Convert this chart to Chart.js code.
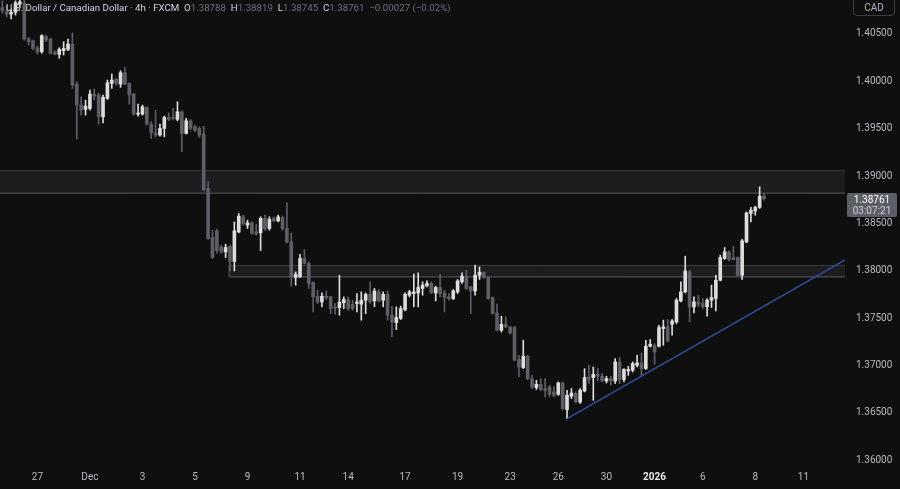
<!DOCTYPE html>
<html>
<head>
<meta charset="utf-8">
<script src="https://cdn.jsdelivr.net/npm/chart.js@4.4.1/dist/chart.umd.min.js"></script>
<style>
  html, body { margin: 0; padding: 0; background: #0f0f0f; }
  #wrap { position: relative; width: 900px; height: 489px; overflow: hidden; background: #0f0f0f; }
  canvas { position: absolute; left: 0; top: 0; }
  #title { position: absolute; left: 6px; top: 1px; font-family: Roboto, "Liberation Sans", sans-serif; font-size: 9.7px; line-height: 14px; color: #d1d4dc; white-space: pre; }
  #title .v { color: #6d7079; }
  #cad { position: absolute; left: 853px; top: -3px; width: 42px; height: 19px; border: 1px solid #3a3b3f; border-radius: 4px; box-sizing: border-box; color: #b2b5be; font-family: Roboto, sans-serif; font-size: 10px; line-height: 20px; text-align: center; }
  #last { position: absolute; left: 847px; top: 193px; width: 50px; height: 24px; background: #5d5f68; border-radius: 2px; font-family: Roboto, sans-serif; font-size: 10px; line-height: 11px; text-align: center; padding-top: 1px; box-sizing: border-box; }
  #last .p { color: #ffffff; }
  #last .t { color: #d0d2d8; }
</style>
</head>
<body>
<div id="wrap">
  <canvas id="c" width="900" height="489"></canvas>
  <div id="title">U.S. Dollar / Canadian Dollar · 4h · FXCM  O<span class="v">1.38788</span>  H<span class="v">1.38819</span>  L<span class="v">1.38745</span>  C<span class="v">1.38761</span>  <span class="v">−0.00027 (−0.02%)</span></div>
  <div id="cad">CAD</div>
  <div id="last"><div class="p">1.38761</div><div class="t">03:07:21</div></div>
</div>
<script>
// ---- data (4h candles, index 0 = first visible full bar) ----
const START_INDEX = -2;
const OPEN = [1.4078,1.4074,1.4071,1.4073,1.4082,1.40827,1.40447,1.40429,1.40352,1.40312,1.40471,1.40447,1.40312,1.40285,1.40323,1.40338,1.40394,1.39971,1.39749,1.39704,1.39714,1.39865,1.39855,1.39625,1.39820,1.39979,1.40021,1.39971,1.40091,1.39979,1.39865,1.39654,1.39654,1.39725,1.39548,1.39456,1.39432,1.39503,1.39619,1.39619,1.39598,1.39678,1.39450,1.39583,1.39520,1.39503,1.39443,1.38869,1.38351,1.38421,1.38251,1.38198,1.38257,1.38097,1.38410,1.38569,1.38481,1.38505,1.38410,1.38399,1.38552,1.38446,1.38552,1.38526,1.38562,1.38446,1.38304,1.37928,1.37934,1.38129,1.38076,1.37871,1.37730,1.37670,1.37730,1.37723,1.37617,1.37611,1.37660,1.37695,1.37646,1.37653,1.37646,1.37688,1.37751,1.37681,1.37776,1.37688,1.37751,1.37529,1.37452,1.37495,1.37590,1.37741,1.37759,1.37765,1.37812,1.37843,1.37865,1.37765,1.37822,1.37765,1.37723,1.37706,1.37776,1.37882,1.37942,1.37829,1.37786,1.37952,1.37984,1.37928,1.37716,1.37554,1.37371,1.37434,1.37406,1.37399,1.37061,1.36977,1.37096,1.36860,1.36765,1.36800,1.36755,1.36772,1.36719,1.36694,1.36814,1.36533,1.36673,1.36702,1.36613,1.36729,1.36877,1.36871,1.36906,1.36885,1.36835,1.36860,1.36835,1.37036,1.36850,1.36941,1.36948,1.37001,1.37025,1.36966,1.37202,1.37209,1.37202,1.37389,1.37406,1.37434,1.37459,1.37681,1.37776,1.37987,1.37617,1.37670,1.37653,1.37620,1.37688,1.37706,1.37899,1.38129,1.38199,1.38139,1.38139,1.37952,1.38304,1.38604,1.38632,1.38668,1.38788];
const HIGH = [1.4085,1.4080,1.4076,1.4085,1.4087,1.4086,1.40463,1.40436,1.40373,1.40492,1.40489,1.40457,1.40323,1.40355,1.40418,1.40447,1.40513,1.39995,1.39837,1.39802,1.39908,1.39918,1.39876,1.39855,1.40013,1.40077,1.40031,1.40112,1.40148,1.39985,1.39873,1.39760,1.39749,1.39731,1.39573,1.39696,1.39548,1.39633,1.39668,1.39714,1.39784,1.39689,1.39609,1.39598,1.39538,1.39520,1.39527,1.38938,1.38428,1.38439,1.38269,1.38280,1.38269,1.38515,1.38604,1.38586,1.38534,1.38515,1.38491,1.38569,1.38586,1.38569,1.38569,1.38586,1.38576,1.38717,1.38399,1.37987,1.38174,1.38224,1.38093,1.37882,1.37794,1.37765,1.37786,1.37730,1.37653,1.37952,1.37723,1.37723,1.37688,1.37759,1.37776,1.37765,1.37882,1.37812,1.37801,1.37776,1.37786,1.37620,1.37617,1.37625,1.37765,1.37794,1.37963,1.37977,1.37882,1.37892,1.37882,1.37836,1.37963,1.37794,1.37759,1.37801,1.37907,1.37977,1.38005,1.37836,1.38058,1.38040,1.37987,1.37934,1.37723,1.37646,1.37519,1.37512,1.37413,1.37413,1.37107,1.37265,1.37107,1.36895,1.36842,1.36860,1.36860,1.36790,1.36772,1.36824,1.36824,1.36737,1.36755,1.36719,1.36755,1.36966,1.37001,1.36983,1.36966,1.36913,1.36885,1.36885,1.37072,1.37082,1.36966,1.36990,1.37036,1.37107,1.37131,1.37265,1.37273,1.37230,1.37424,1.37477,1.37484,1.37484,1.37706,1.37882,1.38153,1.38005,1.37723,1.37741,1.37706,1.37706,1.37847,1.37952,1.38164,1.38245,1.38209,1.38259,1.38146,1.38330,1.38621,1.38668,1.38682,1.38886,1.38819];
const LOW = [1.4072,1.4068,1.4066,1.4070,1.4078,1.40436,1.40383,1.40331,1.40288,1.40296,1.40418,1.40288,1.40278,1.40243,1.40278,1.40323,1.39926,1.39390,1.39643,1.39643,1.39696,1.39802,1.39548,1.39562,1.39809,1.39926,1.39961,1.39936,1.39961,1.39760,1.39643,1.39633,1.39643,1.39538,1.39397,1.39414,1.39421,1.39414,1.39585,1.39591,1.39583,1.39256,1.39443,1.39485,1.39467,1.39408,1.38843,1.38330,1.38129,1.38185,1.38185,1.38139,1.37997,1.37997,1.38399,1.38481,1.38446,1.38386,1.38375,1.38213,1.38428,1.38428,1.38515,1.38515,1.38428,1.38294,1.37836,1.37847,1.37928,1.38069,1.37812,1.37564,1.37653,1.37620,1.37695,1.37547,1.37540,1.37529,1.37600,1.37582,1.37582,1.37564,1.37477,1.37547,1.37653,1.37620,1.37670,1.37620,1.37477,1.37300,1.37378,1.37484,1.37575,1.37723,1.37620,1.37617,1.37741,1.37829,1.37759,1.37681,1.37723,1.37564,1.37688,1.37695,1.37759,1.37865,1.37801,1.37547,1.37741,1.37907,1.37917,1.37695,1.37540,1.37364,1.37353,1.37399,1.37329,1.37046,1.36877,1.36966,1.36850,1.36755,1.36744,1.36729,1.36666,1.36666,1.36666,1.36684,1.36533,1.36438,1.36649,1.36603,1.36596,1.36719,1.36808,1.36631,1.36835,1.36824,1.36814,1.36790,1.36808,1.36808,1.36824,1.36895,1.36930,1.36983,1.36895,1.36956,1.37194,1.37012,1.37194,1.37212,1.37247,1.37318,1.37442,1.37670,1.37765,1.37459,1.37554,1.37620,1.37600,1.37519,1.37611,1.37575,1.37892,1.38118,1.38103,1.38111,1.37942,1.37907,1.38294,1.38515,1.38586,1.38657,1.38745];
const CLOSE = [1.4075,1.4071,1.4073,1.4083,1.4084,1.40447,1.40420,1.40348,1.40309,1.40482,1.40436,1.40296,1.40285,1.40338,1.40348,1.40394,1.39961,1.39749,1.39696,1.39739,1.39865,1.39844,1.39625,1.39831,1.39985,1.40013,1.39979,1.40091,1.39971,1.39855,1.39654,1.39661,1.39731,1.39548,1.39456,1.39432,1.39503,1.39619,1.39598,1.39609,1.39678,1.39450,1.39583,1.39503,1.39485,1.39432,1.38858,1.38340,1.38139,1.38213,1.38198,1.38245,1.38097,1.38421,1.38576,1.38499,1.38505,1.38393,1.38386,1.38552,1.38446,1.38541,1.38526,1.38569,1.38446,1.38304,1.37934,1.37963,1.38129,1.38076,1.37865,1.37723,1.37670,1.37730,1.37716,1.37600,1.37603,1.37667,1.37695,1.37600,1.37600,1.37670,1.37688,1.37751,1.37674,1.37786,1.37681,1.37751,1.37529,1.37459,1.37505,1.37600,1.37751,1.37776,1.37776,1.37822,1.37847,1.37865,1.37765,1.37822,1.37759,1.37716,1.37706,1.37786,1.37892,1.37942,1.37812,1.37786,1.37952,1.37984,1.37928,1.37706,1.37547,1.37371,1.37434,1.37406,1.37342,1.37054,1.36983,1.37096,1.36860,1.36772,1.36800,1.36744,1.36737,1.36694,1.36684,1.36814,1.36543,1.36684,1.36708,1.36613,1.36737,1.36871,1.36850,1.36906,1.36885,1.36835,1.36860,1.36835,1.37036,1.36850,1.36956,1.36956,1.37019,1.37025,1.36966,1.37202,1.37223,1.37142,1.37399,1.37406,1.37258,1.37469,1.37688,1.37776,1.37998,1.37617,1.37670,1.37646,1.37620,1.37688,1.37716,1.37899,1.38139,1.38199,1.38118,1.38118,1.37952,1.38315,1.38611,1.38639,1.38668,1.38788,1.38761];

const X_TICK_INDEX = [6, 18, 30, 42, 54, 66, 77, 90, 102, 114, 125, 136, 147, 158, 170, 181];
const X_TICK_LABELS = ['27', 'Dec', '3', '5', '9', '11', '14', '17', '19', '23', '26', '30', '2026', '6', '8', '11'];
const Y_TICKS = [1.360, 1.365, 1.370, 1.375, 1.380, 1.385, 1.390, 1.395, 1.400, 1.405];

// horizontal zones [bottom, top] and their start index; trend line points [index, price]
const ZONE_UPPER = [1.38819, 1.39057];
const ZONE_LOWER = [1.37934, 1.38055];
const ZONE_LOWER_START = 49.8;
const TREND = [[127, 1.36438], [190.5, 1.38114]];

const X_MIN = -2.54, X_MAX = 190.5;
const Y_MIN = 1.35937, Y_MAX = 1.40859;

// ---- build ----
const BULL = '#dcdcdc', BEAR = '#5e5f66';
const idx = OPEN.map((_, k) => START_INDEX + k);
const colors = OPEN.map((o, k) => CLOSE[k] >= o ? BULL : BEAR);
const wicks = idx.map((x, k) => ({ x, y: [LOW[k], HIGH[k]] }));
const bodies = idx.map((x, k) => ({ x, y: [OPEN[k], CLOSE[k]] }));

const zoneLine = '#595a5e', zoneFill = '#1d1d1f';
const FONT = 'Roboto, "Liberation Sans", sans-serif';

new Chart(document.getElementById('c'), {
  type: 'bar',
  data: {
    datasets: [
      { type: 'line', data: [{ x: X_MIN, y: ZONE_UPPER[1] }, { x: X_MAX, y: ZONE_UPPER[1] }], borderColor: zoneLine, borderWidth: 1, pointRadius: 0, fill: false, order: 20 },
      { type: 'line', data: [{ x: X_MIN, y: ZONE_UPPER[0] }, { x: X_MAX, y: ZONE_UPPER[0] }], borderColor: zoneLine, borderWidth: 1, pointRadius: 0, fill: '-1', backgroundColor: zoneFill, order: 19 },
      { type: 'line', data: [{ x: ZONE_LOWER_START, y: ZONE_LOWER[1] }, { x: X_MAX, y: ZONE_LOWER[1] }], borderColor: zoneLine, borderWidth: 1, pointRadius: 0, fill: false, order: 18 },
      { type: 'line', data: [{ x: ZONE_LOWER_START, y: ZONE_LOWER[0] }, { x: X_MAX, y: ZONE_LOWER[0] }], borderColor: zoneLine, borderWidth: 1, pointRadius: 0, fill: '-1', backgroundColor: zoneFill, order: 17 },
      { type: 'line', data: [{ x: ZONE_LOWER_START, y: ZONE_LOWER[0] }, { x: ZONE_LOWER_START, y: ZONE_LOWER[1] }], borderColor: zoneLine, borderWidth: 1, pointRadius: 0, fill: false, order: 16 },
      { type: 'bar', data: wicks, backgroundColor: colors, barThickness: 1, grouped: false, order: 3 },
      { type: 'bar', data: bodies, backgroundColor: colors, barThickness: 3, minBarLength: 1, grouped: false, order: 2 },
      { type: 'line', data: TREND.map(p => ({ x: p[0], y: p[1] })), borderColor: '#2f4f9e', borderWidth: 1.5, pointRadius: 0, fill: false, order: 1 }
    ]
  },
  options: {
    animation: false,
    responsive: false,
    devicePixelRatio: 1,
    layout: { padding: 0 },
    plugins: { legend: { display: false }, tooltip: { enabled: false } },
    scales: {
      x: {
        type: 'linear', min: X_MIN, max: X_MAX, offset: false,
        grid: { display: false, drawTicks: false }, border: { display: false },
        afterBuildTicks: ax => { ax.ticks = X_TICK_INDEX.map(v => ({ value: v })); },
        afterFit: ax => { ax.height = 23; ax.paddingLeft = 0; ax.paddingRight = 0; },
        ticks: {
          autoSkip: false, maxRotation: 0, padding: 5,
          callback: v => X_TICK_LABELS[X_TICK_INDEX.indexOf(v)],
          color: c => (c.tick && c.tick.label === '2026') ? '#e8e8e8' : '#b8bbc2',
          font: c => ({ family: FONT, size: 10, weight: (c.tick && c.tick.label === '2026') ? 'bold' : 'normal' })
        }
      },
      y: {
        type: 'linear', position: 'right', min: Y_MIN, max: Y_MAX,
        grid: { display: false, drawTicks: false }, border: { display: false },
        afterBuildTicks: ax => { ax.ticks = Y_TICKS.map(v => ({ value: v })); },
        afterFit: ax => { ax.width = 55; ax.paddingTop = 0; ax.paddingBottom = 0; },
        ticks: { padding: 11, color: '#b8bbc2', font: { family: FONT, size: 10 }, callback: v => v.toFixed(5) }
      }
    }
  }
});
</script>
</body>
</html>
